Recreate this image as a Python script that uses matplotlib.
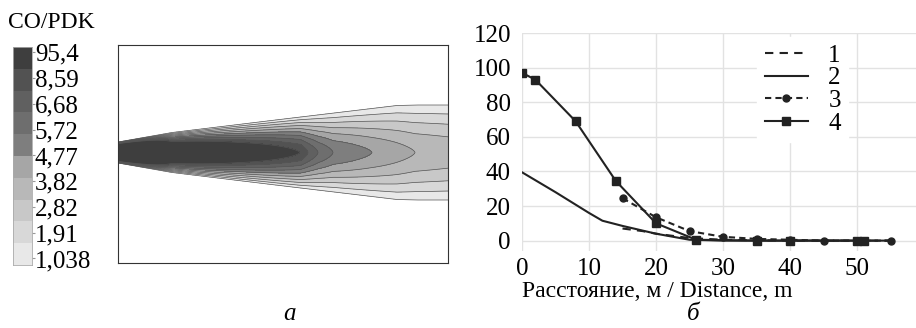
import numpy as np
import matplotlib
matplotlib.use("Agg")
import matplotlib.pyplot as plt
from matplotlib.colors import ListedColormap

plt.rcParams['font.family'] = ['Liberation Serif', 'DejaVu Serif']

W_PX, H_PX = 916, 328

# --- colour scale of panel a ---
cbar_labels = ["95,4", "8,59", "6,68", "5,72", "4,77", "3,82", "2,82", "1,91", "1,038"]
band_colors = ["#e8e8e8", "#d8d8d8", "#c8c8c8", "#b8b8b8", "#a6a6a6",
               "#7e7e7e", "#6e6e6e", "#606060", "#525252", "#3e3e3e"]  # light -> dark

# --- plume of panel a (band index along centreline and outer half-width, px) ---
plume_x = [0, 54, 120, 182, 190, 200, 215, 254, 297, 330]
plume_core = [40, 15, 11.5, 9, 8, 7, 6, 5, 4, 3.7]
edge_x = [0, 54, 170, 279, 300, 330]
edge_w = [10.5, 20, 34, 47, 47.5, 47.5]

# --- panel b: curves 1..4 ---
x1 = [15, 18, 20, 25, 30, 35, 40, 45, 50, 55]
y1 = [7, 5.5, 4, 1.5, 0.5, 0.2, 0, 0, 0, 0]
x2 = [0, 5, 10, 12, 15, 20, 25, 30, 40, 50, 55]
y2 = [39.5, 28, 16, 11.5, 8.5, 4, 0.5, 0, 0, 0, 0]
x3 = [15, 20, 25, 30, 35, 40, 45, 50, 55]
y3 = [24.5, 13.5, 5.5, 2.2, 1, 0.5, 0, 0, 0]
x4 = [0, 2, 8, 14, 20, 26, 35, 40, 50, 51]
y4 = [97, 93, 69, 34.5, 10, 0.5, 0, 0, 0, 0]


def px_axes(fig, x0, y0, x1_, y1_):
    return fig.add_axes([x0 / W_PX, 1 - y1_ / H_PX, (x1_ - x0) / W_PX, (y1_ - y0) / H_PX])


fig = plt.figure(figsize=(W_PX / 100, H_PX / 100), dpi=100)

# colorbar
cax = px_axes(fig, 13, 47, 32, 265)
cax.pcolormesh([0, 1], np.arange(11), np.arange(10).reshape(10, 1),
               cmap=ListedColormap(band_colors), vmin=-0.5, vmax=9.5)
cax.set_xlim(0, 1)
cax.set_ylim(0, 10)
cax.set_xticks([])
cax.set_yticks(np.linspace(9.75, 0.3, len(cbar_labels)))
cax.set_yticklabels(cbar_labels, fontsize=18)
cax.yaxis.tick_right()
cax.tick_params(axis='y', length=2, pad=0, color='#999999')
for s in cax.spines.values():
    s.set_color('#aaaaaa')
    s.set_linewidth(0.6)
fig.text(8 / W_PX, 1 - 23 / H_PX, "CO/PDK", fontsize=17, va='center', ha='left')

# contour panel
ax = px_axes(fig, 118, 45, 448, 263)
gx = np.linspace(0, 330, 661)
gy = np.linspace(-109, 109, 437)
X, Y = np.meshgrid(gx, gy)
core = np.interp(X, plume_x, plume_core)
half = np.interp(X, edge_x, edge_w)
u = np.abs(Y - 1.5) / half
field = core * (1 - np.clip(u, 0, 3) ** 1.5)
levels = list(range(0, 10)) + [100]
ax.contourf(X, Y, field, levels=levels, colors=band_colors)
ax.contour(X, Y, field, levels=list(range(0, 10)), colors='#555555', linewidths=0.5)
ax.set_xlim(0, 330)
ax.set_ylim(-109, 109)
ax.set_xticks([])
ax.set_yticks([])
for s in ax.spines.values():
    s.set_color('#333333')
    s.set_linewidth(0.8)
fig.text(290 / W_PX, 1 - 314 / H_PX, "а", fontsize=18, style='italic', ha='center', va='center')

# line chart
bx = px_axes(fig, 522, 33, 916, 251)
bx.plot(x1, y1, color='#222222', lw=1.5, ls=(0, (4, 3)), label='1')
bx.plot(x2, y2, color='#222222', lw=1.5, label='2')
bx.plot(x3, y3, color='#222222', lw=1.5, ls=(0, (3, 2)), marker='o', ms=5, label='3')
bx.plot(x4, y4, color='#222222', lw=1.5, marker='s', ms=6, label='4')
bx.set_xlim(0, (916 - 522) / 6.7)
bx.set_ylim(-6, 120)
bx.set_xticks([0, 10, 20, 30, 40, 50])
bx.set_yticks([0, 20, 40, 60, 80, 100, 120])
bx.grid(True, color='#e2e2e2', lw=1)
bx.set_axisbelow(True)
for s in bx.spines.values():
    s.set_visible(False)
bx.tick_params(length=0, labelsize=18, pad=8)
bx.tick_params(axis='x', pad=5)
bx.set_xlabel("Расстояние, м / Distance, m", fontsize=17, labelpad=1, loc='left')
leg = bx.legend(loc='upper left', bbox_to_anchor=(757 / W_PX, 1 - 37 / H_PX),
                bbox_transform=fig.transFigure, fontsize=18, frameon=True,
                handlelength=1.75, handletextpad=0.8, labelspacing=0.0,
                borderpad=0.3, borderaxespad=0, numpoints=1)
leg.get_frame().set_edgecolor('white')
leg.get_frame().set_facecolor('white')
leg.get_frame().set_alpha(1)
fig.text(693 / W_PX, 1 - 314 / H_PX, "б", fontsize=18, style='italic', ha='center', va='center')

fig.savefig("out.png", dpi=100)
